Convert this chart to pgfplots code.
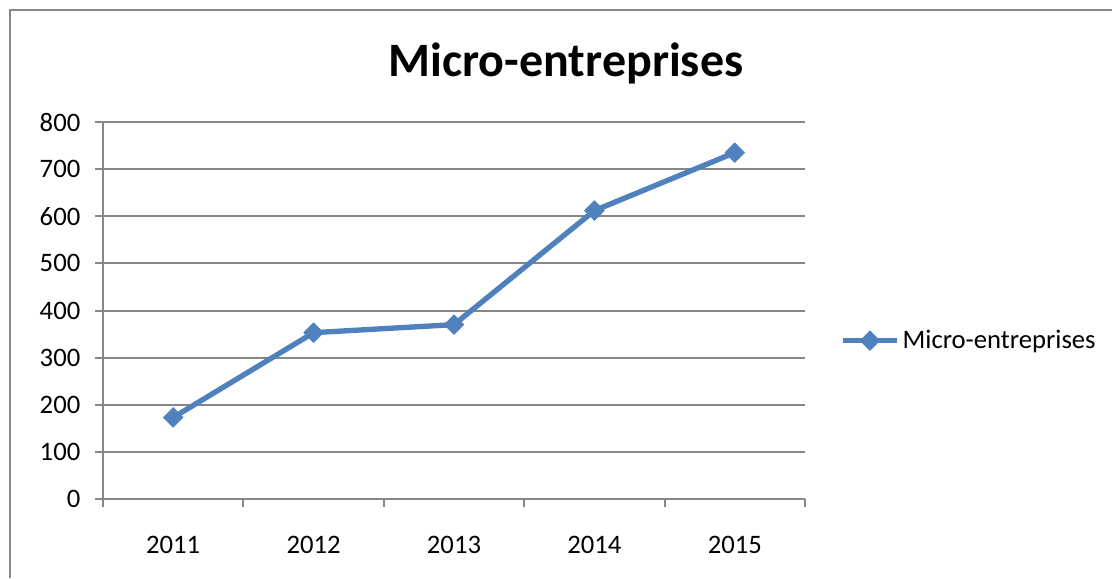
\documentclass[border=0pt]{standalone}
\usepackage{fontspec}
\setmainfont{Carlito}
\usepackage{pgfplots}
\pgfplotsset{compat=1.18}
\definecolor{excelblue}{HTML}{4F81BD}
\definecolor{gridgray}{HTML}{878787}

% 1 px of the reference = 0.75pt
\begin{document}
\begin{tikzpicture}
\useasboundingbox (0pt,0pt) rectangle (834pt,433.5pt);
\draw[gridgray, line width=2pt] (7.5pt,0pt) -- (7.5pt,426pt) -- (834pt,426pt);
\node[font=\bfseries\fontsize{36}{42}\selectfont, anchor=base] at (424.5pt,375.75pt) {Micro-entreprises};
\begin{axis}[
    at={(77.25pt,59.25pt)}, anchor=south west,
    scale only axis,
    width=526.5pt, height=282.75pt,
    xmin=-0.5, xmax=4.5,
    ymin=0, ymax=800,
    xtick={0,1,2,3,4},
    xticklabels={2011,2012,2013,2014,2015},
    minor xtick={-0.5,0.5,1.5,2.5,3.5,4.5},
    ytick={0,100,...,800},
    major x tick style={draw=none},
    tick align=outside,
    major tick length=6pt,
    minor tick length=6pt,
    tick style={gridgray, line width=1.5pt},
    axis x line*=bottom, axis y line*=left,
    axis line style={gridgray, line width=1.5pt, -},
    ymajorgrids,
    grid style={gridgray, line width=1.5pt},
    ticklabel style={font=\fontsize{20}{24}\selectfont},
    /pgf/number format/assume math mode=true,
    xticklabel style={yshift=-18pt},
    yticklabel style={xshift=-7.5pt},
    legend style={at={(1,0.42)}, anchor=west, xshift=26pt, draw=none, fill=none,
        font=\fontsize{20}{24}\selectfont, inner sep=0pt},
    legend image code/.code={\draw[mark repeat=2,mark phase=2,#1] plot coordinates {(0pt,0pt) (20.5pt,0pt) (41pt,0pt)};},
]
\addplot[color=excelblue, line width=4pt, mark=square*, mark size=5.2pt,
    mark options={rotate=45, line width=0.5pt, fill=excelblue}] coordinates {
    (0,173) (1,353) (2,370) (3,612) (4,735)
};
\addlegendentry{Micro-entreprises}
\end{axis}
\end{tikzpicture}
\end{document}
